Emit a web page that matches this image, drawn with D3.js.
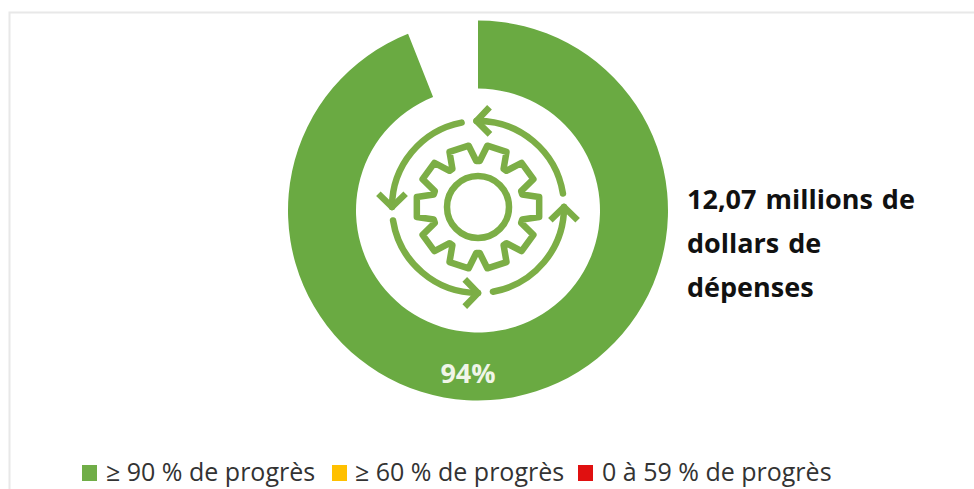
<!DOCTYPE html>
<html><head><meta charset="utf-8">
<script src="https://cdn.jsdelivr.net/npm/d3@7"></script>
<style>html,body{margin:0;padding:0;background:#fff}svg{display:block}text{font-family:"Open Sans",sans-serif}</style>
</head><body><svg id="c" width="974" height="489"></svg>
<script>
const categories = ["≥ 90 % de progrès", "Reste"];
const values = [94, 6];
const valueLabel = "94%";
const legendLabels = ["≥ 90 % de progrès", "≥ 60 % de progrès", "0 à 59 % de progrès"];
const legendColors = ["#70ad47", "#ffc000", "#e01010"];
const legendBoxX = [82, 332, 578];
const legendTextX = [106, 355, 602];
const noteLines = ["12,07 millions de", "dollars de", "dépenses"];
const noteBaselines = [209, 253, 297];

const svg = d3.select("#c");
const cx = 478, cy = 210.5, outer = 190, inner = 122;
const green = "#6aaa42", iconGreen = "#7cae46";

// frame
svg.append("path").attr("d", "M9.5,489V12.5H974").attr("fill", "none").attr("stroke", "#e8e8e8").attr("stroke-width", 2);

// ring
const pie = d3.pie().sort(null).value(d => d);
const arc = d3.arc().innerRadius(inner).outerRadius(outer);
const ring = svg.append("g").attr("transform", `translate(${cx},${cy})`);
ring.selectAll("path").data(pie(values)).join("path")
  .attr("d", arc)
  .attr("fill", (d, i) => i === 0 ? green : "none");

ring.append("text").text(valueLabel).attr("x", -10).attr("y", 172.5)
  .attr("text-anchor", "middle").attr("font-size", 27).attr("font-weight", 700).attr("fill", "#f0f5e8");

// icon
const icon = svg.append("g").attr("transform", "translate(478,207)")
  .attr("fill", "none").attr("stroke", iconGreen).attr("stroke-width", 6.5)
  .attr("stroke-linejoin", "round").attr("stroke-linecap", "butt");
icon.append("circle").attr("r", 31);

const teeth = d3.range(10);
const rTip = 62, rRoot = 46;
const pol = (r, a) => [r * Math.cos(a), r * Math.sin(a)];
const gearPts = [];
teeth.forEach(i => {
  const a = i * Math.PI / 5, w = Math.PI / 5;
  gearPts.push(pol(rRoot, a - w * 0.44), pol(rTip, a - w * 0.26), pol(rTip, a + w * 0.26), pol(rRoot, a + w * 0.44));
});
icon.append("path").attr("d", d3.line().curve(d3.curveLinearClosed)(gearPts));

// arrows: angles measured clockwise from 12 o'clock, tail → head
const arrowSpans = [[81, -1], [-11, -90], [-99, -180], [170, 90]];
const rArrow = 86, headLen = 19;
arrowSpans.forEach(([from, to]) => {
  const a0 = from * Math.PI / 180, a1 = to * Math.PI / 180;
  const seg = d3.arc().innerRadius(rArrow).outerRadius(rArrow)
    .startAngle(a0).endAngle(a1);
  icon.append("path").attr("d", seg());
  const hx = rArrow * Math.sin(a1), hy = -rArrow * Math.cos(a1);
  const sign = to < from ? 1 : -1;
  const tx = Math.cos(a1) * sign, ty = Math.sin(a1) * sign;
  const wing = s => {
    const c = Math.cos(s * 0.8), n = Math.sin(s * 0.8);
    return [hx + headLen * (tx * c - ty * n), hy + headLen * (tx * n + ty * c)];
  };
  icon.append("path").attr("d", d3.line()([wing(1), [hx, hy], wing(-1)]));
});

// note
svg.append("g").selectAll("text").data(noteLines).join("text")
  .text(d => d).attr("x", 687).attr("y", (d, i) => noteBaselines[i])
  .attr("font-size", 27).attr("font-weight", 700).attr("fill", "#111")
  .attr("word-spacing", 2);

// legend
const legend = svg.append("g");
legend.selectAll("rect").data(legendColors).join("rect")
  .attr("x", (d, i) => legendBoxX[i]).attr("y", 465).attr("width", 15).attr("height", 16).attr("fill", d => d);
legend.selectAll("text").data(legendLabels).join("text")
  .text(d => d).attr("x", (d, i) => legendTextX[i]).attr("y", 481)
  .attr("font-size", 25).attr("fill", "#333");
</script></body></html>
